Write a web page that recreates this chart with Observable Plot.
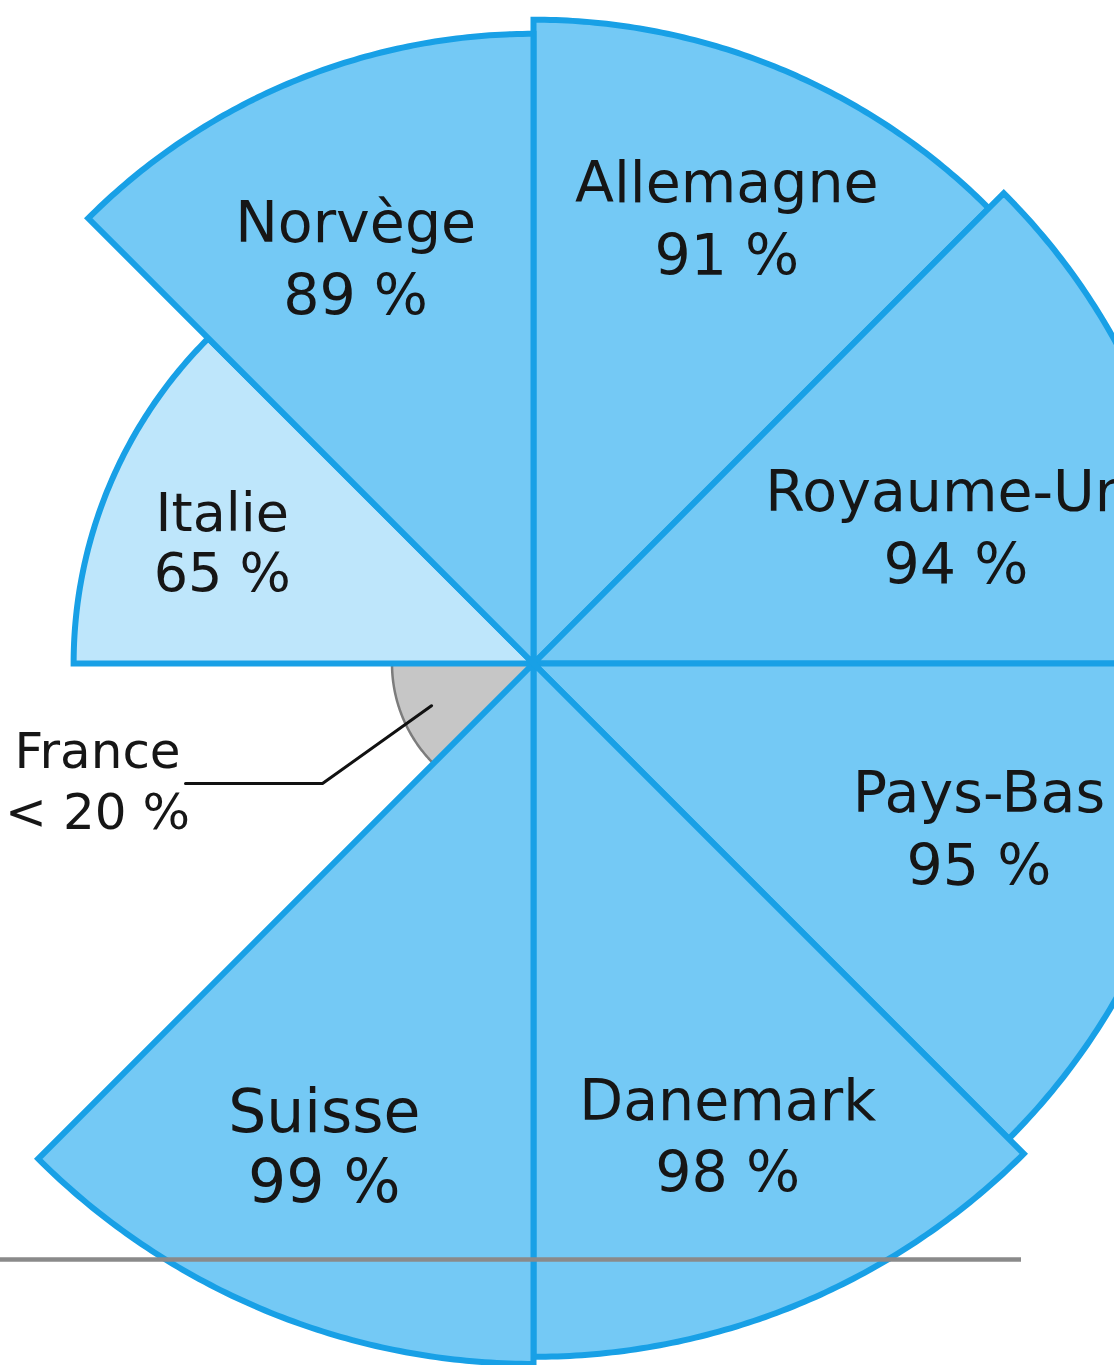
<!DOCTYPE html>
<html>
<head>
<meta charset="utf-8">
<script src="https://cdn.jsdelivr.net/npm/d3@7"></script>
<script src="https://cdn.jsdelivr.net/npm/@observablehq/plot@0.6"></script>
<style>
  html, body { margin: 0; padding: 0; background: #fff; overflow: hidden; }
  #chart svg { display: block; }
</style>
</head>
<body>
<div id="chart"></div>
<script>
// ---- Data (sectors clockwise from 12 o'clock, 45° each) ----
const countries   = ["Allemagne", "Royaume-Uni", "Pays-Bas", "Danemark", "Suisse", "France", "Italie", "Norvège"];
const values      = [91, 94, 95, 98, 99, 20, 65, 89];
const valueLabels = ["91 %", "94 %", "95 %", "98 %", "99 %", "< 20 %", "65 %", "89 %"];
const groups      = ["high", "high", "high", "high", "high", "low", "mid", "high"];

// ---- Layout / style ----
const W = 1114, H = 1365;
const cx = 533, cy = 663;      // pixel position of the pole
const k = 7.075;               // pixels per percentage point
const sectorDeg = 360 / countries.length;
const fillOf   = {high: "#74c9f5", mid: "#bee6fb", low: "#c6c6c6"};
const strokeOf = {high: "#18a0e6", mid: "#18a0e6", low: "#7c7c7c"};
const font = "DejaVu Sans, Verdana, sans-serif";
// label placement per sector: [angle (deg, clockwise from up), radius as fraction of value, font size, line height, dy]
const labelLayout = {
  "Allemagne":   [23.6, 0.750, 57, 1.29, -6],
  "Royaume-Uni": [72.0, 0.668, 57, 1.28, -2],
  "Pays-Bas":    [110.6, 0.708, 57, 1.29, -6],
  "Danemark":    [157.6, 0.735, 57, 1.28, -2],
  "Suisse":      [203.4, 0.752, 60, 1.16, -2],
  "Italie":      [290.4, 0.722, 54, 1.12, -6],
  "Norvège":     [336.2, 0.700, 57, 1.28, -5]
};

const rows = countries.map((name, i) => ({
  name, value: values[i], label: valueLabels[i], group: groups[i],
  a0: i * sectorDeg, a1: (i + 1) * sectorDeg
}));

const rad = d => d * Math.PI / 180;
const polar = (r, deg) => ({x: r * Math.sin(rad(deg)), y: r * Math.cos(rad(deg))});

function sectorPoints(d) {
  const pts = [{...polar(0, 0), name: d.name}];
  for (let a = d.a0; a <= d.a1 + 1e-9; a += 0.5) pts.push({...polar(d.value, a), name: d.name});
  return pts;
}

// draw the small/gray sector first so the blue edges sit on top
const order = [...rows].sort((a, b) => (a.group === "low" ? -1 : 0) - (b.group === "low" ? -1 : 0));

const sectorMarks = order.map(d => Plot.line(sectorPoints(d), {
  x: "x", y: "y", curve: "linear-closed",
  fill: fillOf[d.group], stroke: strokeOf[d.group],
  strokeWidth: d.group === "low" ? 2.5 : 6, strokeLinejoin: "miter", strokeMiterlimit: 10,
  clip: true
}));

const labelMarks = rows.filter(d => d.group !== "low").map(d => {
  const [ang, frac, size, lh, dy] = labelLayout[d.name];
  const p = polar(frac * d.value, ang);
  return Plot.text([{...p, text: d.name + "\n" + d.label}], {
    x: "x", y: "y", text: "text", fontSize: size, lineHeight: lh, dy,
    fill: "#161616", fontFamily: font, clip: true
  });
});

// France annotation with a leader line
const fr = rows.find(d => d.group === "low");
const frTip = polar(0.78 * fr.value, (fr.a0 + fr.a1) / 2);
const elbow = {x: (322 - cx) / k, y: (cy - 783) / k};
const tail  = {x: (185 - cx) / k, y: (cy - 783) / k};
const leader = [frTip, elbow, tail];
const frLabel = [{x: (97 - cx) / k, y: (cy - 783) / k, text: fr.name + "\n" + fr.label}];

// horizontal gray rule across the lower part
const ruleRow = [{y: (cy - 1259) / k, x1: (0 - cx) / k, x2: (1021 - cx) / k}];

const chart = Plot.plot({
  width: W, height: H, margin: 0,
  x: {domain: [-cx / k, (W - cx) / k], range: [0, W], axis: null},
  y: {domain: [-(H - cy) / k, cy / k], range: [H, 0], axis: null},
  style: {background: "white", overflow: "hidden"},
  marks: [
    ...sectorMarks,
    Plot.line(leader, {x: "x", y: "y", stroke: "#111", strokeWidth: 3}),
    ...labelMarks,
    Plot.text(frLabel, {
      x: "x", y: "y", text: "text", fontSize: 50, lineHeight: 1.22, dy: -5,
      fill: "#161616", fontFamily: font
    }),
    Plot.ruleY(ruleRow, {y: "y", x1: "x1", x2: "x2", stroke: "#8a8a8a", strokeWidth: 4.5})
  ]
});
document.getElementById("chart").appendChild(chart);
</script>
</body>
</html>
